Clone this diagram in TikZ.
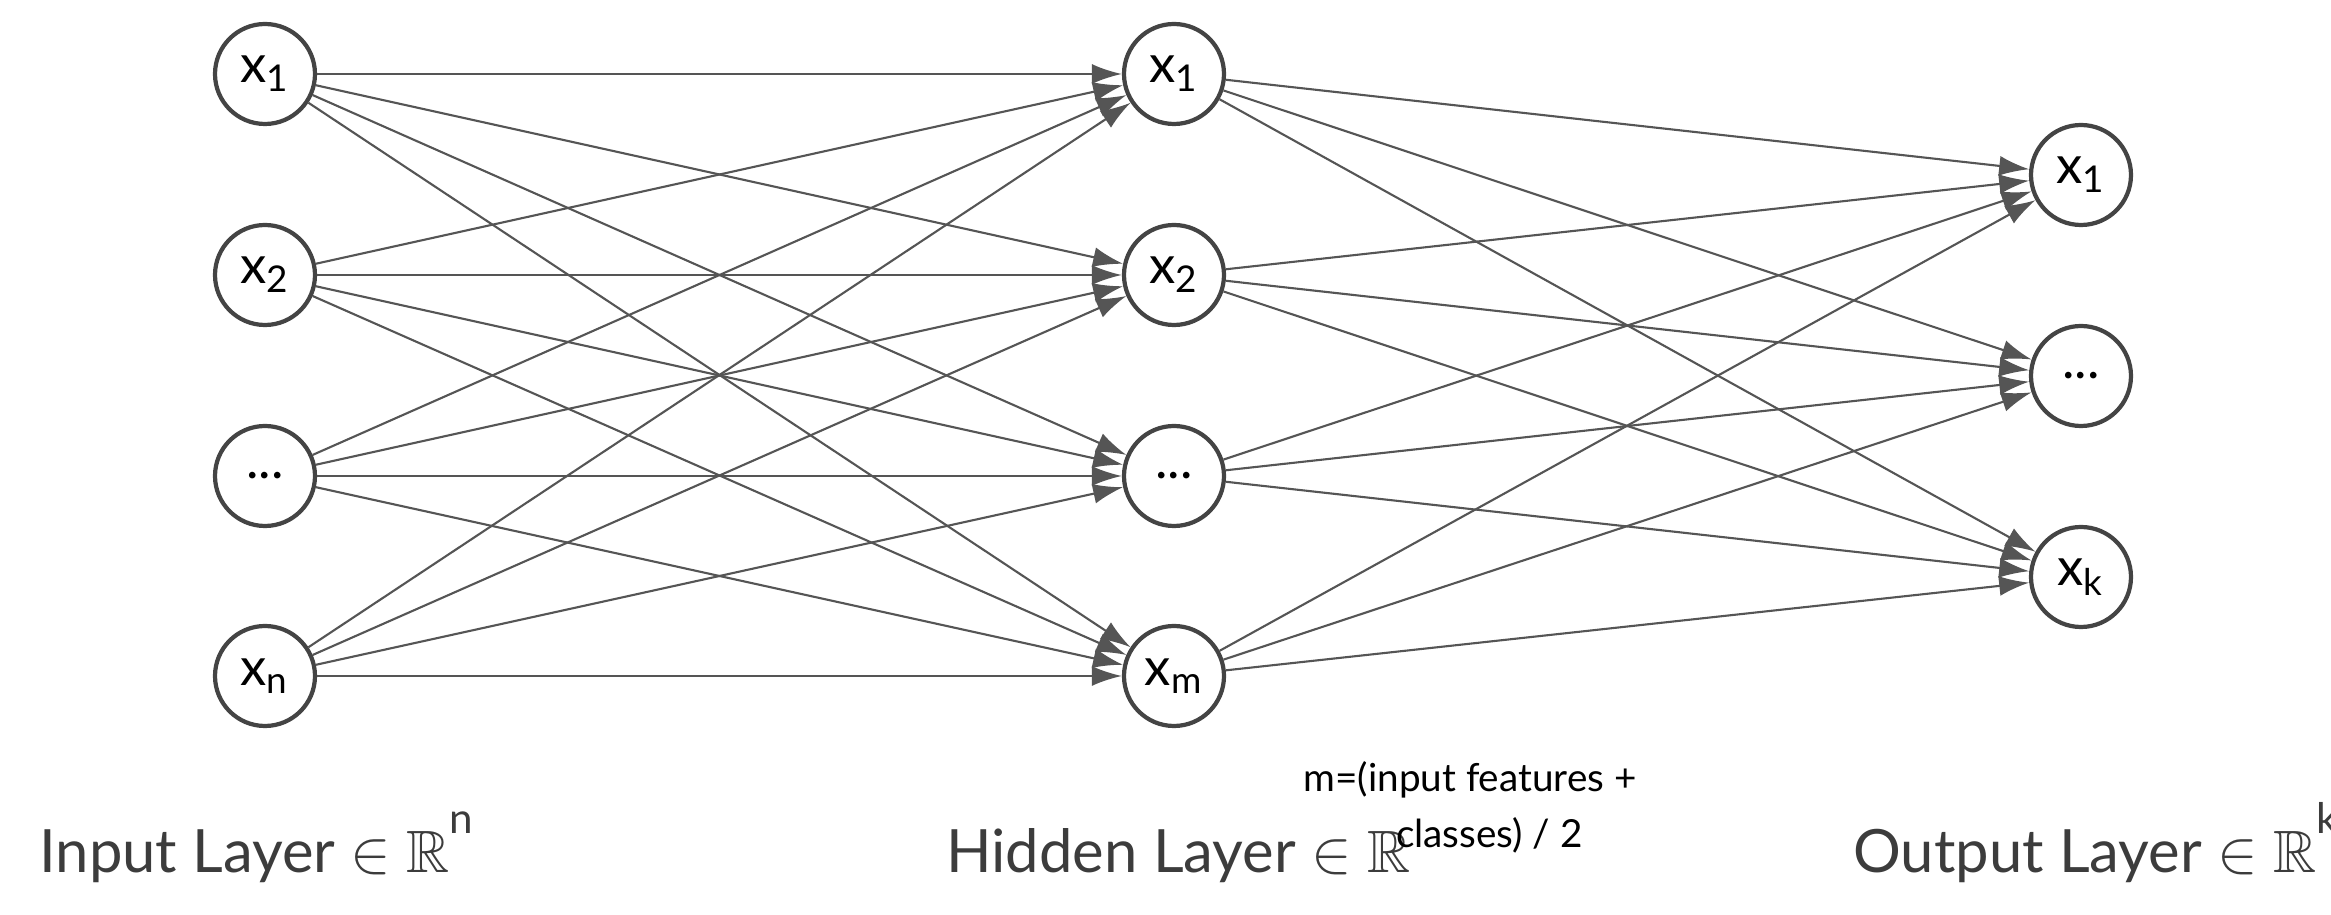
\documentclass[tikz,border=0pt]{standalone}
\usepackage{amsmath,amssymb}
\usepackage{fontspec}
\setmainfont{Lato}
\usetikzlibrary{arrows.meta}
\definecolor{edgegray}{RGB}{85,85,85}
\definecolor{textgray}{RGB}{60,60,60}

\begin{document}
\begin{tikzpicture}[neuron/.style={circle,draw=edgegray!80!black,line width=1.2pt,minimum size=1cm,inner sep=0pt,font=\fontsize{15}{15}\selectfont},
	conn/.style={-{Latex[length=3mm,width=2mm]},draw=edgegray,line width=0.6pt},
	layertext/.style={anchor=base west,text=textgray,font=\fontsize{17}{17}\selectfont}]
\useasboundingbox (0,0) rectangle (23.31,9.15);

% input layer
\node [neuron] (i1) at (2.65,8.41) {x\textsubscript{1}};
\node [neuron] (i2) at (2.65,6.40) {x\textsubscript{2}};
\node [neuron] (i3) at (2.65,4.39) {...};
\node [neuron] (i4) at (2.65,2.39) {x\textsubscript{n}};
% hidden layer
\node [neuron] (h1) at (11.74,8.41) {x\textsubscript{1}};
\node [neuron] (h2) at (11.74,6.40) {x\textsubscript{2}};
\node [neuron] (h3) at (11.74,4.39) {...};
\node [neuron] (h4) at (11.74,2.39) {x\textsubscript{m}};
% output layer
\node [neuron] (o1) at (20.81,7.40) {x\textsubscript{1}};
\node [neuron] (o2) at (20.81,5.39) {...};
\node [neuron] (o3) at (20.81,3.38) {x\textsubscript{k}};

\foreach \a in {1,...,4}
	\foreach \b in {1,...,4}
		\draw [conn] (i\a) -- (h\b);
\foreach \a in {1,...,4}
	\foreach \b in {1,...,3}
		\draw [conn] (h\a) -- (o\b);

\node [layertext] (inlabel) at (0.27,0.42) {Input Layer $\in$ $\mathbb{R}$\raisebox{1.3ex}{\fontsize{12}{12}\selectfont n}};
\node [layertext] (hidlabel) at (9.34,0.42) {Hidden Layer $\in$ $\mathbb{R}$};
\node [layertext] (outlabel) at (18.41,0.42) {Output Layer $\in$ $\mathbb{R}$\raisebox{1.3ex}{\fontsize{12}{12}\selectfont k}};
\node [align=center,font=\fontsize{11}{16}\selectfont,text=black] (mnote) at (14.70,1.08) {m=(input features +\\ \quad classes) / 2};
\end{tikzpicture}
\end{document}
